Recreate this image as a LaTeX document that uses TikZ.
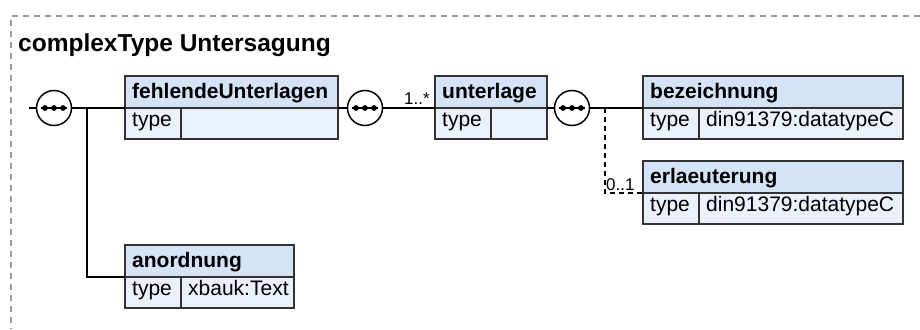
\documentclass[tikz,border=0pt]{standalone}
\usepackage{fontspec}
\setmainfont{Liberation Sans}
\definecolor{hdrfill}{HTML}{D5E3F7}
\definecolor{bdyfill}{HTML}{EAF1FB}
\definecolor{boxline}{HTML}{333333}
\definecolor{frameline}{HTML}{9A9A9A}
\newcommand\xsdbox[7]{%
  \node[hdr, minimum width=#4pt] (#1h) at (#2,#3) {};
  \node[bdy, minimum width=#5pt] (#1t) at (#2,#3+32) {};
  \node[bdy, minimum width=#4pt-#5pt] (#1v) at (#2+#5,#3+32) {};
  \node[ttl] (#1l) at (#2+7,#3+22) {#6};
  \node[txt] (#1k) at (#2+7,#3+32+18) {type};
  \node[txt] (#1n) at (#2+#5+7,#3+32+18) {#7};
}
\newcommand\seqnode[3]{%
  \node[seq] (#1) at (#2,#3) {};
  \draw[line width=1.5pt] ([xshift=-13pt]#1.center) -- ([xshift=13pt]#1.center);
  \fill ([xshift=-9pt]#1.center) circle (2.9pt);
  \fill (#1.center) circle (2.9pt);
  \fill ([xshift=9pt]#1.center) circle (2.9pt);
}
\begin{document}
\begin{tikzpicture}[x=1pt,y=-1pt,
  hdr/.style={draw=boxline, fill=hdrfill, line width=1.5pt, minimum height=32pt, inner sep=0pt, outer sep=0pt, anchor=north west},
  bdy/.style={draw=boxline, fill=bdyfill, line width=1.5pt, minimum height=31pt, inner sep=0pt, outer sep=0pt, anchor=north west},
  ttl/.style={font=\bfseries\fontsize{21}{24}\selectfont, anchor=base west, inner sep=0pt},
  txt/.style={font=\fontsize{21}{24}\selectfont, anchor=base west, inner sep=0pt},
  mult/.style={font=\fontsize{17}{20}\selectfont, anchor=base west, inner sep=0pt},
  conn/.style={line width=1.6pt, black},
  optconn/.style={line width=1.3pt, black, dash pattern=on 5pt off 4pt},
  seq/.style={circle, draw=black, fill=white, line width=1.5pt, minimum size=35pt, inner sep=0pt, outer sep=0pt},
  frame/.style={draw=frameline, line width=1.2pt, dash pattern=on 6pt off 5pt},
]
\useasboundingbox (0,0) rectangle (920,329);
\draw[frame] (920,16) -- (11,16) -- (11,329);
\node[font=\bfseries\fontsize{24.5}{28}\selectfont, anchor=base west, inner sep=0pt] (title) at (18,52) {complexType Untersagung};

\coordinate (s0) at (29,108);
\coordinate (b1) at (87,108);
\coordinate (b3) at (605,108);

\xsdbox{fu}{125}{76}{213}{56}{fehlendeUnterlagen}{}
\xsdbox{ul}{435}{76}{112}{56}{unterlage}{}
\xsdbox{bz}{643}{76}{260}{56}{bezeichnung}{din91379:datatypeC}
\xsdbox{er}{643}{161}{260}{56}{erlaeuterung}{din91379:datatypeC}
\xsdbox{an}{125}{245}{169}{56}{anordnung}{xbauk:Text}

\seqnode{c1}{54}{108}
\seqnode{c2}{365}{108}
\seqnode{c3}{572}{108}

\draw[conn] (s0) -- (c1.west);
\draw[conn] (c1.east) -- (fuh.south west);
\draw[conn] (b1) |- (anh.south west);
\draw[conn] (fuh.south east) -- (c2.west);
\draw[conn] (c2.east) -- (ulh.south west);
\node[mult] (m1) at (404,104) {1..*};
\draw[conn] (ulh.south east) -- (c3.west);
\draw[conn] (c3.east) -- (bzh.south west);
\draw[optconn] (b3) |- (erh.south west);
\node[mult] (m2) at (606,190) {0..1};
\end{tikzpicture}
\end{document}
